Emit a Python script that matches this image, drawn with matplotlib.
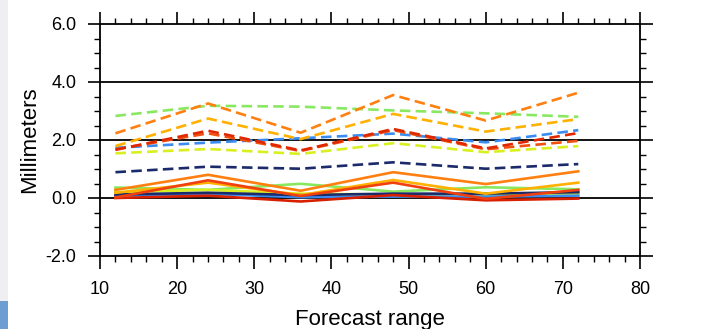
import matplotlib
matplotlib.use("Agg")
import matplotlib.pyplot as plt
from matplotlib.ticker import MultipleLocator
from matplotlib.patches import Rectangle

plt.rcParams['font.family'] = ['Liberation Sans', 'DejaVu Sans']

forecast = [12, 24, 36, 48, 60, 72]

# dashed series
d_lgreen  = [2.83, 3.18, 3.15, 3.02, 2.92, 2.80]
d_orange  = [2.23, 3.26, 2.25, 3.55, 2.67, 3.63]
d_amber   = [1.79, 2.74, 2.03, 2.90, 2.29, 2.72]
d_red1    = [1.66, 2.32, 1.64, 2.38, 1.71, 2.24]
d_red2    = [1.68, 2.23, 1.62, 2.34, 1.68, 1.97]
d_blue    = [1.73, 1.91, 2.06, 2.22, 1.92, 2.34]
d_ygreen  = [1.54, 1.69, 1.52, 1.89, 1.58, 1.79]
d_navy    = [0.89, 1.08, 1.01, 1.23, 1.01, 1.17]

# solid series
s_orange  = [0.28, 0.80, 0.25, 0.89, 0.48, 0.92]
s_amber   = [0.18, 0.53, 0.10, 0.62, 0.15, 0.53]
s_red     = [0.02, 0.61, 0.07, 0.53, -0.03, 0.28]
s_dred    = [0.00, 0.08, -0.12, 0.10, -0.08, -0.02]
s_lgreen  = [0.36, 0.28, 0.49, 0.22, 0.37, 0.30]
s_navy    = [0.12, 0.18, 0.10, 0.15, 0.15, 0.20]
s_blue    = [0.08, 0.14, 0.03, 0.05, 0.05, 0.08]
s_ygreen  = [0.20, 0.28, 0.15, 0.12, 0.08, 0.15]

fig = plt.figure(figsize=(7.12, 3.29), dpi=100)
ax = fig.add_axes([100/712, 1-256/329, 540/712, 232/329])

# decorative left stripe
fig.patches.append(Rectangle((0, 28/329), 8/712, 1, transform=fig.transFigure,
                             facecolor='#EFEFF1', edgecolor='none', zorder=-1))
fig.patches.append(Rectangle((0, 0), 8/712, 28/329, transform=fig.transFigure,
                             facecolor='#6E9DD4', edgecolor='none', zorder=-1))

for v in [0, 2, 4]:
    ax.axhline(v, color='black', lw=1.3, zorder=1)

dash = (0, (4, 2))
lw = 1.9
solid = [
    (s_lgreen, '#88E860'),
    (s_ygreen, '#D8F020'),
    (s_blue, '#3A8CF0'),
    (s_navy, '#1A2A6A'),
    (s_amber, '#FFB000'),
    (s_dred, '#D82000'),
    (s_red, '#F04010'),
    (s_orange, '#FF8010'),
]
for y, c in solid:
    ax.plot(forecast, y, color=c, lw=lw, zorder=2)

dashed = [
    (d_navy, '#1A2A6A'),
    (d_ygreen, '#D8F020'),
    (d_blue, '#3A8CF0'),
    (d_red2, '#F05010'),
    (d_red1, '#E02800'),
    (d_amber, '#FFB000'),
    (d_lgreen, '#88E860'),
    (d_orange, '#FF8010'),
]
for y, c in dashed:
    ax.plot(forecast, y, color=c, lw=lw, linestyle=dash, zorder=3)

ax.set_xlim(10, 80)
ax.set_ylim(-2, 6)
ax.xaxis.set_major_locator(MultipleLocator(10))
ax.xaxis.set_minor_locator(MultipleLocator(2))
ax.yaxis.set_major_locator(MultipleLocator(2))
ax.yaxis.set_minor_locator(MultipleLocator(0.5))
ax.yaxis.set_major_formatter(plt.FuncFormatter(lambda v, p: f"{v:.1f}"))

ax.tick_params(which='both', direction='out', top=True, right=True,
               width=1.2, colors='black', labelsize=13)
ax.tick_params(which='major', length=9)
ax.tick_params(which='minor', length=4.5, width=1.0)
ax.tick_params(axis='x', pad=9)
ax.tick_params(axis='y', pad=8)
for s in ax.spines.values():
    s.set_linewidth(1.3)

ax.set_xlabel('Forecast range', fontsize=16, labelpad=8)
ax.set_ylabel('Millimeters', fontsize=16, labelpad=4)

fig.savefig('out.png', dpi=100)
